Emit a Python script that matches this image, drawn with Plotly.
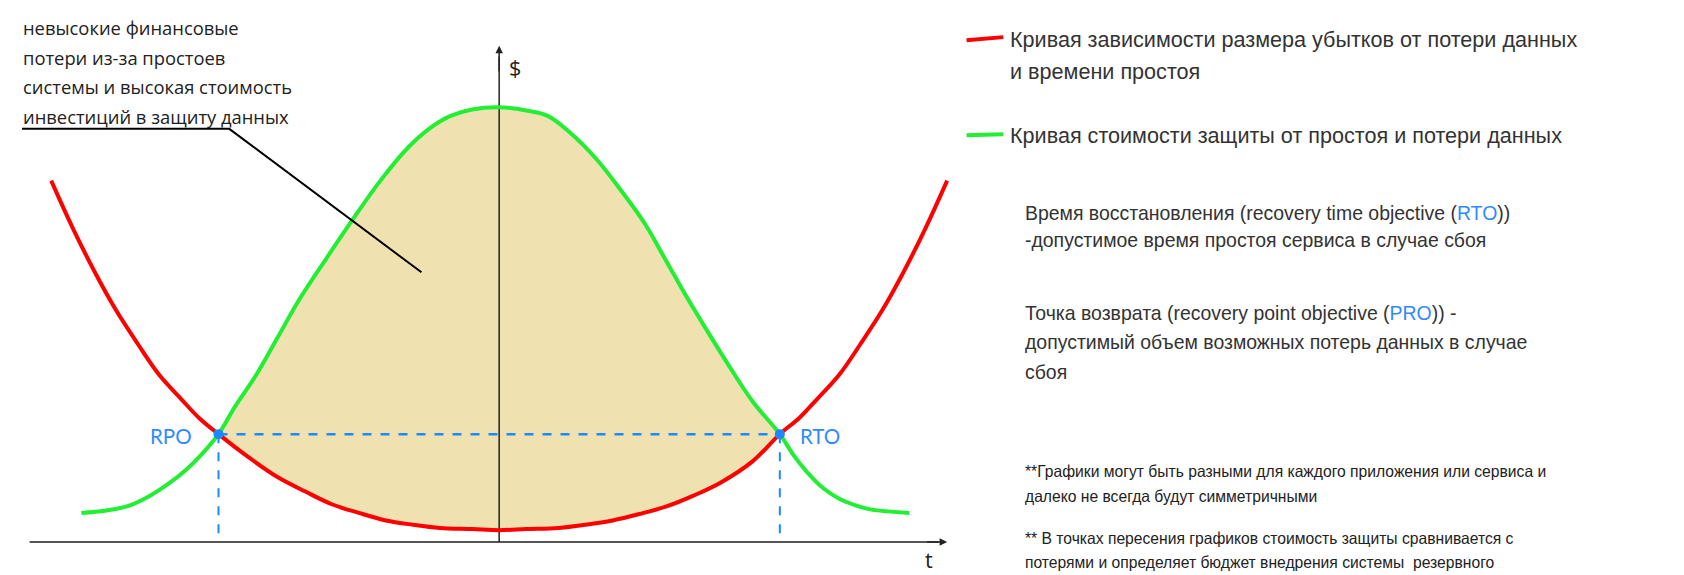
import plotly.graph_objects as go

# curves (x right, y down, in a 1560x533 frame of the picture)
red_x = [40, 60, 80, 100, 120, 140, 160, 177, 195, 225, 250, 275, 300, 325, 350, 375, 400, 430, 455, 480, 510, 535, 560, 585, 610, 635, 660, 690, 715, 733, 750, 770, 790, 810, 830, 850, 870]
red_y = [160, 204, 244, 280, 311, 340, 362, 380, 395, 418, 435, 448, 460, 468, 475, 479, 482, 483, 484, 483, 482, 479, 475, 469, 462, 452, 440, 420, 395, 380, 362, 340, 311, 280, 244, 204, 160]
green_x = [68, 90, 110, 130, 150, 165, 180, 195, 210, 230, 250, 270, 295, 320, 345, 370, 390, 410, 430, 455, 480, 500, 520, 545, 570, 590, 610, 630, 650, 670, 690, 715, 728, 740, 755, 770, 785, 800, 835]
green_y = [468, 466, 462, 453, 440, 428, 413, 395, 370, 340, 305, 270, 232, 195, 160, 130, 112, 100, 94, 92, 95, 100, 115, 140, 172, 200, 235, 270, 303, 335, 365, 395, 415, 430, 445, 455, 461, 465, 468]

rpo = (195, 395)
rto = (715, 395)
axis_y = 495
axis_x = 455
k = 1.08  # font scale for the 1684 px page

fig = go.Figure()

# shaded area between the curves from RPO to RTO
gx = [x for x in green_x if rpo[0] <= x <= rto[0]]
gy = [y for x, y in zip(green_x, green_y) if rpo[0] <= x <= rto[0]]
rx = [x for x in red_x if rpo[0] <= x <= rto[0]]
ry = [y for x, y in zip(red_x, red_y) if rpo[0] <= x <= rto[0]]
fig.add_trace(go.Scatter(x=gx + rx[::-1], y=gy + ry[::-1], fill="toself",
                         fillcolor="#efe2b0", line=dict(width=0), mode="lines"))

# axes
fig.add_trace(go.Scatter(x=[20, 862], y=[axis_y, axis_y], mode="lines", line=dict(color="#555", width=2)))
fig.add_trace(go.Scatter(x=[axis_x, axis_x], y=[axis_y, 45], mode="lines", line=dict(color="#222", width=1.5)))
fig.add_annotation(x=870, y=axis_y, ax=850, ay=axis_y, xref="x", yref="y", axref="x", ayref="y",
                   showarrow=True, arrowhead=2, arrowsize=1, arrowwidth=1.5, arrowcolor="#222", text="")
fig.add_annotation(x=axis_x, y=35, ax=axis_x, ay=60, xref="x", yref="y", axref="x", ayref="y",
                   showarrow=True, arrowhead=2, arrowsize=1, arrowwidth=1.5, arrowcolor="#222", text="")

# dashed guides
fig.add_trace(go.Scatter(x=[rpo[0], rto[0]], y=[rpo[1], rto[1]], mode="lines",
                         line=dict(color="#1e88ff", width=2.5, dash="dash")))
for p in (rpo, rto):
    fig.add_trace(go.Scatter(x=[p[0], p[0]], y=[p[1], axis_y], mode="lines",
                             line=dict(color="#1e88ff", width=2, dash="dash")))

fig.add_trace(go.Scatter(x=red_x, y=red_y, mode="lines", line=dict(color="#ff0000", width=4, shape="spline")))
fig.add_trace(go.Scatter(x=green_x, y=green_y, mode="lines", line=dict(color="#22ee33", width=4, shape="spline")))
fig.add_trace(go.Scatter(x=[rpo[0], rto[0]], y=[rpo[1], rto[1]], mode="markers",
                         marker=dict(color="#1e88ff", size=10)))

# annotation pointer
fig.add_trace(go.Scatter(x=[13, 205, 383], y=[112, 112, 245], mode="lines", line=dict(color="black", width=2)))

fig.update_layout(showlegend=False)

def txt(x, y, s, size, color="#222", family="Open Sans", anchor="left"):
    fig.add_annotation(x=x, y=y, xref="x", yref="y", text=s, showarrow=False, xanchor=anchor,
                       yanchor="middle", font=dict(size=size * k, color=color, family=family))

blue = "#2e8bff"
txt(130, 397, "RPO", 19, blue, "Lato")
txt(732, 397, "RTO", 19, blue, "Lato")
txt(462, 55, "$", 20)
txt(848, 511, "t", 20)

left_lines = ["невысокие финансовые", "потери из-за простоев", "системы и высокая стоимость", "инвестиций в защиту данных"]
for i, s in enumerate(left_lines):
    txt(12, 18 + i * 27.5, s, 17)

# legend-like block on the right
fig.add_trace(go.Scatter(x=[888, 922], y=[30, 27], mode="lines", line=dict(color="#ff0000", width=4)))
fig.add_trace(go.Scatter(x=[888, 922], y=[118, 117], mode="lines", line=dict(color="#22ee33", width=4)))
txt(926, 29, "Кривая зависимости размера убытков от потери данных", 20, "#333", "Liberation Sans")
txt(926, 59, "и времени простоя", 20, "#333", "Liberation Sans")
txt(926, 118, "Кривая стоимости защиты от простоя и потери данных", 20, "#333", "Liberation Sans")

para = [
    (190, 'Время восстановления (recovery time objective (<span style="color:#2e8bff">RTO</span>))'),
    (215, "-допустимое время простоя сервиса в случае сбоя"),
    (283, 'Точка возврата (recovery point objective (<span style="color:#2e8bff">PRO</span>)) -'),
    (310, "допустимый объем возможных потерь данных в случае"),
    (337, "сбоя"),
]
for y, s in para:
    txt(940, y, s, 18, "#333", "Liberation Sans")

small = [
    (432, "**Графики могут быть разными для каждого приложения или сервиса и"),
    (455, "далеко не всегда будут симметричными"),
    (494, "** В точках пересения графиков стоимость защиты сравнивается с"),
    (516, "потерями и определяет бюджет внедрения системы  резервного"),
    (537, "копирования"),
]
for y, s in small:
    txt(940, y - 2, s, 14.5, "#222", "Liberation Sans")

fig.update_xaxes(range=[0, 1560], visible=False, fixedrange=True)
fig.update_yaxes(range=[533, 0], visible=False, fixedrange=True)
fig.update_layout(width=1684, height=575, margin=dict(l=0, r=0, t=0, b=0),
                  plot_bgcolor="white", paper_bgcolor="white")

fig.write_html("out.html")
